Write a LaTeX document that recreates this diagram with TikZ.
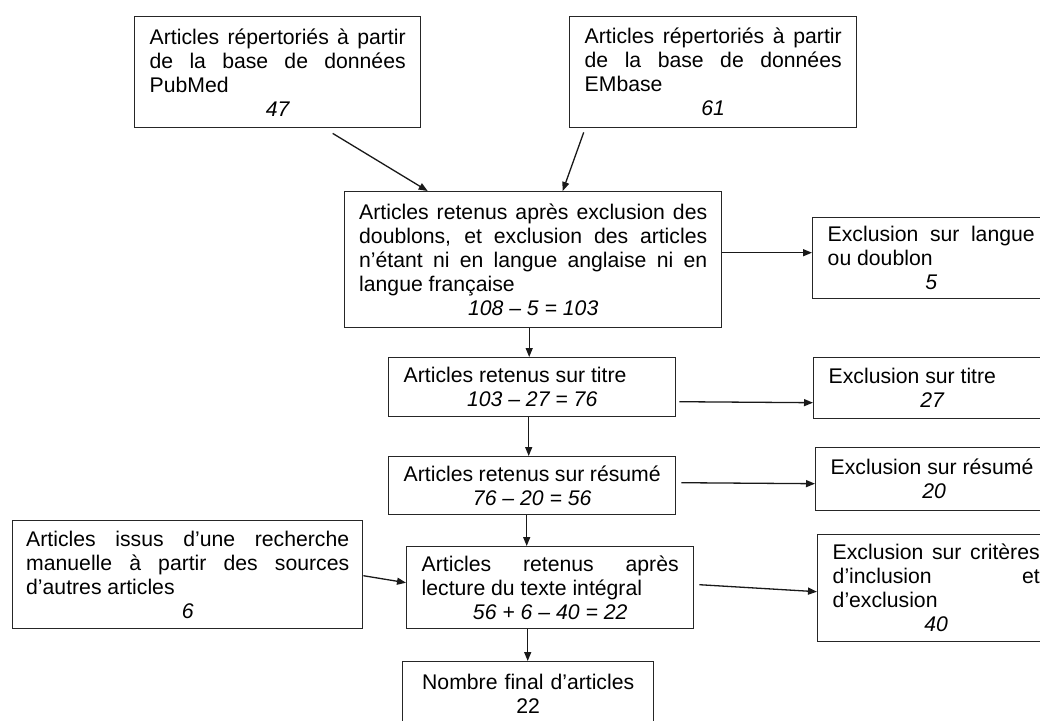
\documentclass[tikz,border=0pt]{standalone}
\usepackage{fontspec}
\setmainfont{Liberation Sans}
\usetikzlibrary{arrows.meta}
\hyphenpenalty=10000
\exhyphenpenalty=10000
\tolerance=10000
\newcommand{\effectif}[1]{\par{\centering\itshape #1\par}}

\tikzset{
  boite/.style={draw=black!85, line width=1.4pt, anchor=north west,
    inner xsep=15pt, inner ysep=0pt, align=justify,
    font=\fontsize{21.2}{24}\selectfont},
  exclu/.style={boite, text width=207pt},
  fleche/.style={-{Triangle[length=9pt,width=7pt]}, line width=1.3pt, black!90},
}

\begin{document}
\begin{tikzpicture}[x=1pt, y=-1pt]
  \path[use as bounding box, fill=white] (0,0) rectangle (1040,720);

  % sources
  \node[boite, text width=256pt, minimum height=111pt] (pubmed) at (134,16) {Articles répertoriés à partir de la base de données PubMed\effectif{47}}; %
  \node[boite, text width=257pt, minimum height=111pt] (embase) at (569,16) {Articles répertoriés à partir de la base de données EMbase\effectif{61}}; %

  % etapes de selection
  \node[boite, inner xsep=14.5pt, text width=348pt, minimum height=136pt] (doublons) at (344,191) {Articles retenus après exclusion des doublons, et exclusion des articles n’étant ni en langue anglaise ni en langue française\effectif{108 – 5 = 103}}; %
  \node[boite, text width=257pt, minimum height=59pt] (titre) at (388,357) {Articles retenus sur titre\effectif{103 – 27 = 76}}; %
  \node[boite, text width=257pt, minimum height=58pt] (resume) at (388,456) {Articles retenus sur résumé\effectif{76 – 20 = 56}}; %
  \node[boite, inner xsep=13.5pt, text width=323pt, minimum height=108pt] (manuel) at (12,520) {Articles issus d’une recherche manuelle à partir des sources d’autres articles\effectif{6}}; %
  \node[boite, text width=257pt, minimum height=82pt] (lecture) at (406,546) {Articles retenus après lecture du texte intégral\effectif{56 + 6 – 40 = 22}}; %
  \node[boite, align=center, text width=221pt, minimum height=64pt] (final) at (402,661) {Nombre final d’articles\\22}; %

  % exclusions
  \node[exclu, minimum height=81pt] (exlangue) at (812,217) {Exclusion sur langue ou doublon\effectif{5}}; %
  \node[exclu, minimum height=61pt] (extitre) at (813,357) {Exclusion sur titre\effectif{27}}; %
  \node[exclu, minimum height=63pt] (exresume) at (815,447) {Exclusion sur résumé\effectif{20}}; %
  \node[exclu, minimum height=107pt] (excriteres) at (817,534) {Exclusion sur critères\linebreak d’inclusion et d’exclusion\effectif{40}}; %

  \draw[fleche] ([xshift=55pt,yshift=-5pt]pubmed.south) -- ([xshift=-105.5pt]doublons.north); %
  \draw[fleche] ([xshift=-129.5pt,yshift=-4pt]embase.south) -- ([xshift=29.5pt]doublons.north); %
  \draw[fleche] ([yshift=7pt]doublons.east) -- ([yshift=7pt]doublons.east -| exlangue.west); %
  \draw[fleche] ([xshift=-4pt]doublons.south) -- ([xshift=-4pt]doublons.south |- titre.north); %
  \draw[fleche] ([xshift=3pt,yshift=-14.5pt]titre.east) -- ([yshift=-14.5pt]extitre.west); %
  \draw[fleche] ([xshift=-3.5pt]titre.south) -- ([xshift=-3.5pt]titre.south |- resume.north); %
  \draw[fleche] ([xshift=5pt,yshift=3pt]resume.east) -- ([yshift=-4.5pt]exresume.west); %
  \draw[fleche] ([xshift=-5.5pt]resume.south) -- ([xshift=-5.5pt]resume.south |- lecture.north); %
  \draw[fleche] ([yshift=-1pt]manuel.east) -- ([yshift=5pt]lecture.west); %
  \draw[fleche] ([xshift=5pt,yshift=3pt]lecture.east) -- ([yshift=-3.5pt]excriteres.west); %
  \draw[fleche] ([xshift=-22.5pt]lecture.south) -- ([xshift=-22.5pt]lecture.south |- final.north); %
\end{tikzpicture}
\end{document}
